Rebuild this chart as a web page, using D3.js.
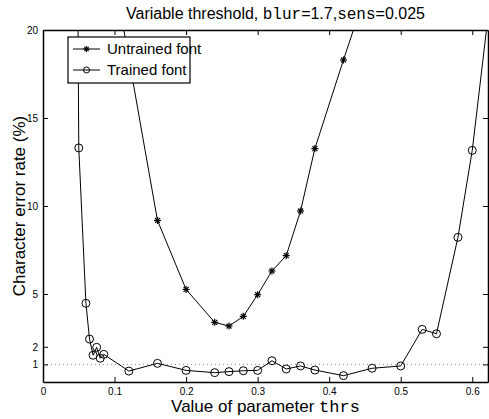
<!DOCTYPE html>
<html>
  <head>
    <meta charset="utf-8">
    <script src="https://d3js.org/d3.v7.min.js"></script>
    <style>
    body { margin: 0; background: #fff; }
    svg { display: block; font-family: "Liberation Sans", Arial, sans-serif; }
    .line { fill: none; stroke: #000; stroke-width: 1px; }
    .mono { font-family: "Liberation Mono", "DejaVu Sans Mono", monospace; }
    </style>
  </head>
  <body>
    <script>
      // values
      let untrainedX = [0.10, 0.16, 0.20, 0.24, 0.26, 0.28, 0.30, 0.32, 0.34, 0.36, 0.38, 0.42, 0.46]
      let untrainedY = [23.0, 9.18, 5.26, 3.39, 3.18, 3.73, 4.96, 6.31, 7.18, 9.72, 13.26, 18.3, 23.2]
      let trainedX = [0.04, 0.05, 0.06, 0.065, 0.07, 0.075, 0.08, 0.085, 0.12, 0.16, 0.20, 0.24, 0.26, 0.28, 0.30,
                      0.32, 0.34, 0.36, 0.38, 0.42, 0.46, 0.50, 0.53, 0.55, 0.58, 0.60, 0.63]
      let trainedY = [80, 13.3, 4.47, 2.44, 1.52, 1.97, 1.35, 1.57, 0.62, 1.06, 0.66, 0.53, 0.59, 0.64, 0.66,
                      1.21, 0.74, 0.91, 0.68, 0.36, 0.78, 0.91, 2.99, 2.74, 8.22, 13.16, 23.5]
      let xTicks = [0, 0.1, 0.2, 0.3, 0.4, 0.5, 0.6]
      let yTicks = [1, 2, 5, 10, 15, 20]
      let refLevel = 1

      let w = 489
      let h = 419
      let m = {left: 43, right: 1, top: 30, bottom: 37}

      let svg = d3.select('body').append('svg')
                  .attr('width', w)
                  .attr('height', h)

      let xScale = d3.scaleLinear().domain([0, 0.622]).range([m.left, w - m.right])
      let yScale = d3.scaleLinear().domain([0, 20]).range([h - m.bottom, m.top])

      svg.append('clipPath').attr('id', 'clip')
         .append('rect')
         .attr('x', m.left).attr('y', m.top)
         .attr('width', w - m.right - m.left).attr('height', h - m.bottom - m.top)

      // dotted reference line
      svg.append('line')
         .attr('x1', xScale.range()[0]).attr('x2', xScale.range()[1])
         .attr('y1', yScale(refLevel)).attr('y2', yScale(refLevel))
         .attr('stroke', '#888').attr('stroke-width', 1).attr('stroke-dasharray', '1,3')

      // axes, ticks pointing inside, on all four sides
      let fmt = d => d === 0 ? '0' : d3.format('.1f')(d)
      let gx = svg.append('g').attr('transform', `translate(0, ${h - m.bottom})`)
                  .call(d3.axisBottom(xScale).tickValues(xTicks).tickFormat(fmt).tickSizeInner(-5).tickSizeOuter(0).tickPadding(6))
      let gxt = svg.append('g').attr('transform', `translate(0, ${m.top})`)
                   .call(d3.axisTop(xScale).tickValues(xTicks).tickFormat('').tickSizeInner(-5).tickSizeOuter(0))
      let gy = svg.append('g').attr('transform', `translate(${m.left}, 0)`)
                  .call(d3.axisLeft(yScale).tickValues(yTicks).tickSizeInner(-5).tickSizeOuter(0).tickPadding(5))
      let gyr = svg.append('g').attr('transform', `translate(${w - m.right}, 0)`)
                   .call(d3.axisRight(yScale).tickValues(yTicks).tickFormat('').tickSizeInner(-5).tickSizeOuter(0))
      ;[gx, gxt, gy, gyr].forEach(g => {
        g.select('.domain').attr('stroke-width', 1.5)
        g.selectAll('text').attr('font-size', 10).attr('font-family', '"Liberation Sans", Arial, sans-serif').attr('fill', '#000')
      })
      gy.selectAll('text').attr('dy', '0.32em')

      // series
      let untrained = untrainedX.map((x, i) => ({x: x, y: untrainedY[i]}))
      let trained = trainedX.map((x, i) => ({x: x, y: trainedY[i]}))
      let line = d3.line().x(d => xScale(d.x)).y(d => yScale(d.y))
      let plot = svg.append('g').attr('clip-path', 'url(#clip)')

      plot.append('path').datum(untrained).attr('class', 'line').attr('d', line)
      plot.append('path').datum(trained).attr('class', 'line').attr('d', line)

      // asterisk marker
      function drawStar(g, cx, cy, r) {
        for (let a = 0; a < 4; a++) {
          let t = a * Math.PI / 4
          g.append('line')
           .attr('x1', cx - r * Math.cos(t)).attr('y1', cy - r * Math.sin(t))
           .attr('x2', cx + r * Math.cos(t)).attr('y2', cy + r * Math.sin(t))
           .attr('stroke', '#000').attr('stroke-width', 1.2)
        }
      }
      untrained.forEach(d => drawStar(plot, xScale(d.x), yScale(d.y), 3.5))

      plot.selectAll('circle.tr')
          .data(trained)
          .enter()
          .append('circle')
          .attr('class', 'tr')
          .attr('cx', d => xScale(d.x))
          .attr('cy', d => yScale(d.y))
          .attr('r', 4)
          .attr('fill', 'none')
          .attr('stroke', '#000')
          .attr('stroke-width', 1)

      // legend
      let lg = svg.append('g').attr('transform', 'translate(68, 37)')
      lg.append('rect').attr('width', 122).attr('height', 46)
        .attr('fill', '#fff').attr('stroke', '#000').attr('stroke-width', 1.2)
      let legendItems = ['Untrained font', 'Trained font']
      legendItems.forEach((name, i) => {
        let yy = 12 + i * 21
        lg.append('line').attr('x1', 5).attr('x2', 32).attr('y1', yy).attr('y2', yy).attr('stroke', '#000')
        if (i === 0) drawStar(lg, 18.5, yy, 3)
        else lg.append('circle').attr('cx', 18.5).attr('cy', yy).attr('r', 3).attr('fill', 'none').attr('stroke', '#000')
        lg.append('text').attr('x', 39).attr('y', yy).attr('dy', '0.35em')
          .attr('font-size', 15).text(name)
      })

      // title
      let title = svg.append('text').attr('x', (m.left + w - m.right) / 2 + 10).attr('y', 19)
                     .attr('text-anchor', 'middle').attr('font-size', 16)
      title.append('tspan').text('Variable threshold, ')
      title.append('tspan').attr('class', 'mono').text('blur')
      title.append('tspan').text('=1.7,')
      title.append('tspan').attr('class', 'mono').text('sens')
      title.append('tspan').text('=0.025')

      // x label
      let xl = svg.append('text').attr('x', (m.left + w - m.right) / 2).attr('y', 412)
                  .attr('text-anchor', 'middle').attr('font-size', 17)
      xl.append('tspan').text('Value of parameter ')
      xl.append('tspan').attr('class', 'mono').text('thrs')

      // y label
      svg.append('text')
         .attr('transform', `translate(25, ${(m.top + h - m.bottom) / 2}) rotate(-90)`)
         .attr('text-anchor', 'middle').attr('font-size', 17)
         .text('Character error rate (%)')
    </script>
  </body>
</html>
